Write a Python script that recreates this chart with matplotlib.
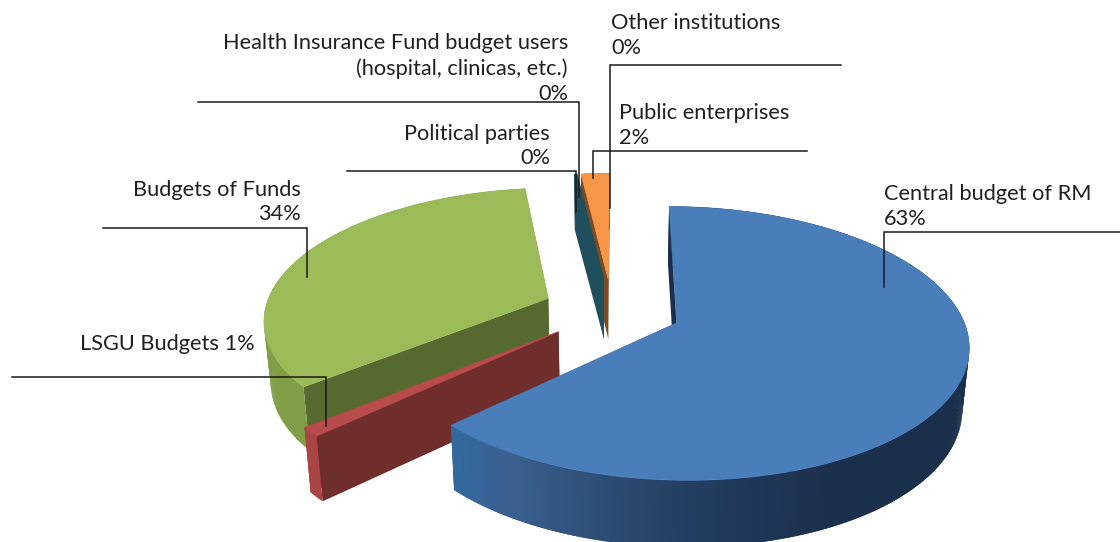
import numpy as np
import matplotlib
matplotlib.use('Agg')
import matplotlib.pyplot as plt
from matplotlib.colors import to_rgb
from matplotlib.patches import Polygon

plt.rcParams['font.family'] = ['Lato', 'DejaVu Sans']

# shares in percent, clockwise from the top of the pie
names = ['Central budget of RM', 'LSGU Budgets', 'Budgets of Funds', 'Political parties',
         'Health Insurance Fund budget users', 'Public enterprises', 'Other institutions']
shares = [62.9, 1.1, 33.9, 0.0, 0.2, 1.9, 0.0]

top_colors = ['#4A7EBB', '#B84C4A', '#9BBB59', '#8064A2', '#1F4E5C', '#F79646', '#2C4D75']
wall_colors = ['#1A2F4B', '#6F2D2C', '#566A2F', '#40324F', '#1F4E5C', '#7B4B23', '#1A2F4B']
rim_colors = ['#1A2F4B', '#A94543', '#7F9E45', '#40324F', '#1F4E5C', '#7B4B23', '#1A2F4B']

# projection of the tilted disc
ox, oy = 612.0, 310.0
rx, ry = 283.5, 130.0
persp = 0.148
explode = 0.245
start_angle = 0.2


def project(X, Y):
    d = 1 + persp*Y
    return ox + rx*X/d, oy - ry*Y/d


def lower(x, y):
    # bottom plane of the extruded disc
    return ox + (x - ox)*0.98, oy + 60.8 + (y - oy)*1.035


def quad(ax, xa, ya, xb, yb, color, z):
    xa2, ya2 = lower(xa, ya)
    xb2, yb2 = lower(xb, yb)
    ax.add_patch(Polygon([(xa, ya), (xb, yb), (xb2, yb2), (xa2, ya2)], closed=True,
                         facecolor=color, edgecolor='none', zorder=z))


def blue_rim(t):
    # dark on the right hand side, lighter towards the end of the slice
    stops = [0.0, 0.68, 0.8, 0.93, 0.97, 1.0]
    cols = np.array([to_rgb(c) for c in ['#1A2F4B', '#1A2F4B', '#243F62', '#3A5F8C', '#37649A', '#33699F']])
    return tuple(np.interp(t, stops, cols[:, i]) for i in range(3))


def draw_slice(ax, i, a0, a1, z):
    if a1 <= a0:
        return
    mid = np.radians((a0 + a1)/2)
    cx, cy = explode*np.sin(mid), explode*np.cos(mid)
    th = np.radians(np.linspace(a0, a1, max(int((a1 - a0)*2), 2) + 1))
    X = cx + np.sin(th)
    Y = cy + np.cos(th)
    x, y = project(X, Y)
    ax_, ay_ = project(np.array(cx), np.array(cy))

    # radial walls, then the rim, then the top face
    quad(ax, ax_, ay_, x[-1], y[-1], wall_colors[i], z)
    quad(ax, ax_, ay_, x[0], y[0], wall_colors[i], z + 0.1)
    for j in range(len(x) - 1):
        if i == 0:
            c = blue_rim(j/(len(x) - 2))
        else:
            c = rim_colors[i]
        # each strip runs under the next one so no seams show
        k = min(j + 2, len(x) - 1)
        quad(ax, x[j], y[j], x[k], y[k], c, z + 0.2)
    pts = [(ax_, ay_)] + list(zip(x, y))
    ax.add_patch(Polygon(pts, closed=True, facecolor=top_colors[i], edgecolor=top_colors[i],
                         lw=0.4, zorder=z + 0.3))


fig = plt.figure(figsize=(11.2, 5.42), dpi=100)
ax = fig.add_axes([0, 0, 1, 1])
ax.set_xlim(0, 1120)
ax.set_ylim(542, 0)
ax.axis('off')

edges = start_angle + 3.6*np.concatenate(([0], np.cumsum(shares)))

# painted back to front
draw_order = [6, 5, 4, 3, 2, 1, 0]
for n, i in enumerate(draw_order):
    draw_slice(ax, i, edges[i], edges[i + 1], n + 1)

# leader lines
leaders = [
    [(1120, 232), (884, 232), (884, 287)],
    [(12, 377), (326, 377), (326, 426)],
    [(103, 228), (307, 228), (307, 277)],
    [(347, 171), (576, 171), (576, 212)],
    [(198, 102), (579, 102), (579, 197)],
    [(807, 151), (593, 151), (593, 178)],
    [(841, 65), (610, 65), (610, 208)],
]
for pts in leaders:
    xs, ys = zip(*pts)
    ax.plot(xs, ys, color='#1a1a1a', lw=1.1, solid_joinstyle='miter', zorder=20)

pct = ['%d%%' % round(s) for s in shares]
fs = 15.7
tc = '#231F20'


def label(x, y, s, ha='left'):
    ax.text(x, y, s, ha=ha, va='center', fontsize=fs, color=tc, zorder=30)


label(884, 194, names[0])
label(884, 219, pct[0])
label(255, 344, names[1] + ' ' + pct[1], ha='right')
label(301, 190, names[2], ha='right')
label(301, 214, pct[2], ha='right')
label(550, 134, names[3], ha='right')
label(550, 158, pct[3], ha='right')
label(568, 43, names[4], ha='right')
label(568, 69, '(hospital, clinicas, etc.)', ha='right')
label(568, 94, pct[4], ha='right')
label(619, 113, names[5])
label(619, 138, pct[5])
label(611, 23, names[6])
label(611, 48, pct[6])

fig.savefig('out.png', dpi=100, facecolor='white')
